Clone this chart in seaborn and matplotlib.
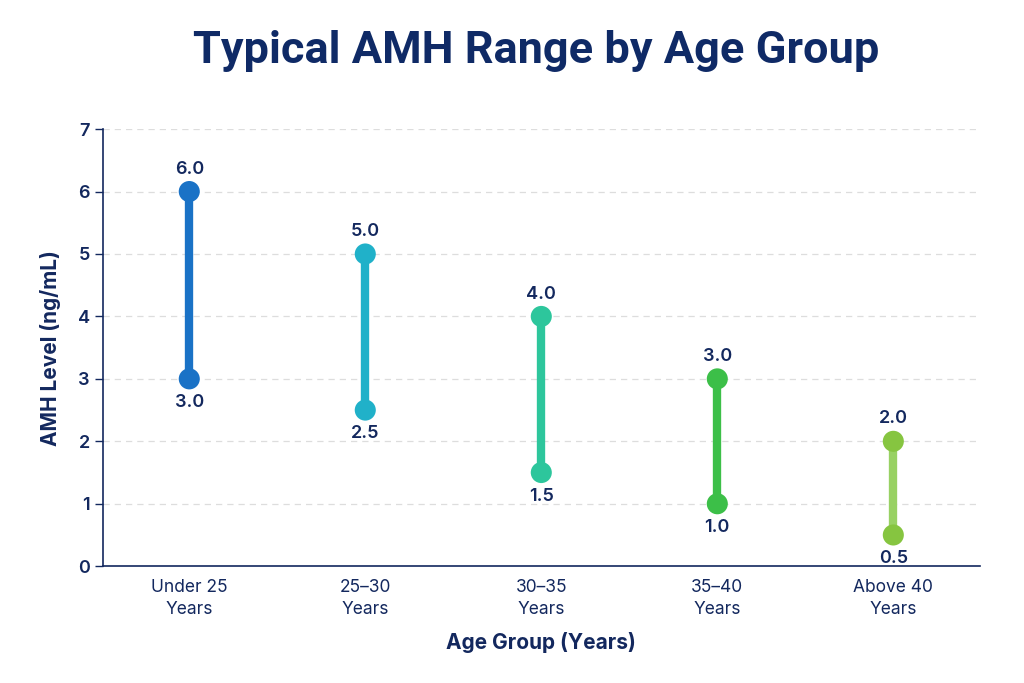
import numpy as np
import pandas as pd
import matplotlib
matplotlib.use("Agg")
import matplotlib.pyplot as plt
import seaborn as sns

# data
groups = ["Under 25\nYears", "25\u201330\nYears", "30\u201335\nYears", "35\u201340\nYears", "Above 40\nYears"]
low = [3.0, 2.5, 1.5, 1.0, 0.5]
high = [6.0, 5.0, 4.0, 3.0, 2.0]
colors = ["#1a72c6", "#20b1c9", "#2dc69c", "#3cbf48", "#86c540"]
line_colors = ["#1a72c6", "#20b1c9", "#2dc69c", "#3cbf48", "#98d163"]

navy = "#13285e"
sns.set_theme(style="white")
plt.rcParams["font.family"] = ["Inter", "DejaVu Sans"]

df = pd.DataFrame({"group": groups * 2, "value": low + high,
                   "end": ["low"] * 5 + ["high"] * 5})
df["x"] = df["group"].map({g: i for i, g in enumerate(groups)})

fig = plt.figure(figsize=(10.24, 6.83), dpi=100)
ax = fig.add_axes([0.1006, 0.171, 0.856, 0.64])

for i, g in enumerate(groups):
    ax.plot([i, i], [low[i], high[i]], color=line_colors[i], lw=6,
            solid_capstyle="butt", zorder=2)

sns.scatterplot(data=df, x="x", y="value", hue="group", palette=colors,
                s=230, edgecolor="none", legend=False, ax=ax, zorder=3)

for i in range(len(groups)):
    ax.annotate(f"{high[i]:.1f}", (i, high[i]), xytext=(0, 10), textcoords="offset points",
                ha="center", va="bottom", fontsize=13, fontweight="semibold", color=navy)
    ax.annotate(f"{low[i]:.1f}", (i, low[i]), xytext=(0, -11), textcoords="offset points",
                ha="center", va="top", fontsize=13, fontweight="semibold", color=navy)

ax.set_xlim(-0.49, 4.49)
ax.set_ylim(0, 7)
ax.set_yticks(range(0, 8))
ax.set_xticks(range(len(groups)))
ax.set_xticklabels(groups, linespacing=1.4)
ax.yaxis.grid(True, linestyle=(0, (5, 4)), color="#dddddd", lw=0.9)
ax.set_axisbelow(True)
sns.despine(ax=ax)
for s in ["left", "bottom"]:
    ax.spines[s].set_color(navy)
    ax.spines[s].set_linewidth(1.2)
ax.tick_params(axis="y", colors=navy, labelsize=13, length=6, width=1, left=True)
ax.tick_params(axis="x", colors=navy, labelsize=12.5, length=0, pad=9)
for t in ax.get_yticklabels():
    t.set_fontweight("semibold")

ax.set_xlabel("Age Group (Years)", fontsize=15, fontweight="bold", color=navy, labelpad=10)
ax.set_ylabel("AMH Level (ng/mL)", fontsize=15, fontweight="bold", color=navy, labelpad=12)
fig.text(0.524, 0.925, "Typical AMH Range by Age Group", fontsize=32.5, fontweight="bold",
         color="#0f2a66", ha="center", va="center", family=["Roboto", "DejaVu Sans"])

fig.savefig("out.png", dpi=100, facecolor="white")
